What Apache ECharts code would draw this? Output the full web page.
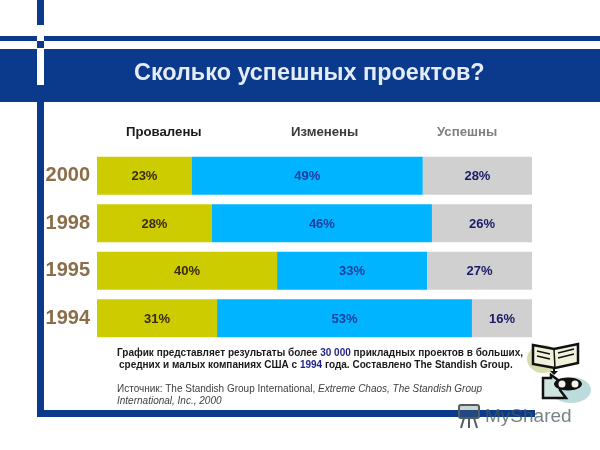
<!DOCTYPE html>
<html>
<head>
<meta charset="utf-8">
<style>
  html, body { margin: 0; padding: 0; background: #fff; }
  #chart { width: 600px; height: 450px; }
</style>
<script src="https://cdn.jsdelivr.net/npm/echarts@6/dist/echarts.min.js"></script>
</head>
<body>
<div id="chart"></div>
<script>
  var years = ['2000', '1998', '1995', '1994'];
  var seriesNames = ['Провалены', 'Изменены', 'Успешны'];
  // подписи на полосах
  var failedLabels = [23, 28, 40, 31];
  var changedLabels = [49, 46, 33, 53];
  var successLabels = [28, 26, 27, 16];
  // длины полос на картинке не совпадают с подписями, поэтому считаны отдельно
  var failedBars = [21.8, 26.4, 41.4, 27.6];
  var changedBars = [53.1, 50.6, 34.5, 58.6];
  var successBars = [25.1, 23, 24.1, 13.8];

  var font = '"Liberation Sans", Arial, sans-serif';
  var navy = '#0b3a8c';

  var chart = echarts.init(document.getElementById('chart'));

  function makeSeries(name, values, labels, color, labelColor) {
    return {
      name: name,
      type: 'bar',
      stack: 'total',
      barWidth: 38,
      data: values,
      itemStyle: { color: color },
      label: {
        show: true,
        position: 'inside',
        offset: [0, 1],
        formatter: function (p) {
          return labels[p.dataIndex] + '%';
        },
        color: labelColor,
        fontFamily: font,
        fontWeight: 'bold',
        fontSize: 13
      },
      silent: true
    };
  }

  function rect(x, y, w, h, fill, z) {
    return { type: 'rect', shape: { x: x, y: y, width: w, height: h }, style: { fill: fill }, silent: true, z: z || 1 };
  }

  function text(x, y, str, size, color, weight, align, style) {
    return {
      type: 'text', x: x, y: y, z: 5, silent: true,
      style: {
        text: str, fill: color, align: align || 'left', verticalAlign: 'middle',
        font: (style || 'normal') + ' ' + (weight || 'normal') + ' ' + size + 'px ' + font
      }
    };
  }

  function shape(type, sh, st, z) {
    return { type: type, shape: sh, style: st, silent: true, z: z };
  }

  var ink = '#111111';

  var graphics = [
    // рамка слайда
    rect(37, 0, 7, 25, navy),
    rect(0, 36, 37, 5, navy),
    rect(44, 36, 556, 5, navy),
    rect(37, 41, 7, 7, navy),
    rect(0, 49, 600, 53, navy),
    rect(37, 49, 7, 36, '#ffffff', 2),
    rect(37, 102, 7, 315, navy),
    rect(37, 410, 498, 7, navy),

    text(134, 73.5, 'Сколько успешных проектов?', 23.4, '#e4ecf8', 'bold'),

    text(126, 132, seriesNames[0], 13.2, '#1a1a1a', 'bold'),
    text(291, 132, seriesNames[1], 13.2, '#3a3a3a', 'bold'),
    text(437, 132, seriesNames[2], 13.2, '#808080', 'bold'),

    // подпись под графиком
    {
      type: 'text', x: 117, y: 353, z: 5, silent: true,
      style: {
        text: '{b|График представляет результаты более }{h|30 000}{b| прикладных проектов в больших,}',
        verticalAlign: 'middle',
        rich: {
          b: { font: 'bold 10px ' + font, fill: '#1a1a1a' },
          h: { font: 'bold 10px ' + font, fill: '#1f1f8c' }
        }
      }
    },
    {
      type: 'text', x: 119, y: 365, z: 5, silent: true,
      style: {
        text: '{b|средних и малых компаниях США с }{h|1994}{b| года. Составлено The Standish Group.}',
        verticalAlign: 'middle',
        rich: {
          b: { font: 'bold 10px ' + font, fill: '#1a1a1a' },
          h: { font: 'bold 10px ' + font, fill: '#1f1f8c' }
        }
      }
    },
    {
      type: 'text', x: 117, y: 389, z: 5, silent: true,
      style: {
        text: '{n|Источник: The Standish Group International, }{i|Extreme Chaos, The Standish Group}',
        verticalAlign: 'middle',
        rich: {
          n: { font: 'normal 10px ' + font, fill: '#404040' },
          i: { font: 'italic 10px ' + font, fill: '#404040' }
        }
      }
    },
    text(117, 401, 'International, Inc., 2000', 10, '#404040', 'normal', 'left', 'italic'),

    // значок: книга
    shape('ellipse', { cx: 543, cy: 359, rx: 16, ry: 14 }, { fill: '#d8dcb0' }, 2),
    shape('polygon', { points: [[533, 345], [554, 349], [578, 344], [578, 363], [555, 368], [533, 364]] }, { fill: '#f2f2dc', stroke: ink, lineWidth: 2.5 }, 3),
    shape('line', { x1: 554, y1: 349, x2: 555, y2: 368 }, { stroke: ink, lineWidth: 1.5 }, 3),
    shape('line', { x1: 537, y1: 351, x2: 550, y2: 354 }, { stroke: ink, lineWidth: 1.5 }, 3),
    shape('line', { x1: 537, y1: 356, x2: 550, y2: 359 }, { stroke: ink, lineWidth: 1.5 }, 3),
    shape('line', { x1: 558, y1: 353, x2: 574, y2: 349 }, { stroke: ink, lineWidth: 1.5 }, 3),
    shape('line', { x1: 558, y1: 358, x2: 574, y2: 354 }, { stroke: ink, lineWidth: 1.5 }, 3),
    shape('line', { x1: 554, y1: 368, x2: 554, y2: 372 }, { stroke: ink, lineWidth: 2 }, 3),
    shape('polygon', { points: [[550, 371], [558, 371], [554, 375]] }, { fill: ink }, 3),

    // значок: читатель
    shape('ellipse', { cx: 571, cy: 390, rx: 20, ry: 13 }, { fill: '#bcdcdc' }, 2),
    shape('polygon', { points: [[543, 378], [551, 378], [551, 375], [558, 380], [560, 390], [566, 398], [543, 398]] }, { fill: '#cfe4e0', stroke: ink, lineWidth: 2.5 }, 3),
    shape('ellipse', { cx: 568, cy: 384, rx: 14, ry: 6.5 }, { fill: ink }, 3),
    shape('circle', { cx: 562, cy: 384, r: 3.5 }, { fill: '#f4f4e8' }, 4),
    shape('circle', { cx: 575, cy: 384, r: 3.5 }, { fill: '#f4f4e8' }, 4),

    // водяной знак
    shape('rect', { x: 459, y: 405, width: 20, height: 13, r: 2 }, { fill: 'rgba(90,110,110,0.3)', stroke: '#4f5f5f', lineWidth: 2 }, 6),
    shape('line', { x1: 464, y1: 418, x2: 461, y2: 428 }, { stroke: '#4f5f5f', lineWidth: 2 }, 6),
    shape('line', { x1: 469, y1: 418, x2: 469, y2: 428 }, { stroke: '#4f5f5f', lineWidth: 2 }, 6),
    shape('line', { x1: 474, y1: 418, x2: 477, y2: 428 }, { stroke: '#4f5f5f', lineWidth: 2 }, 6),
    text(485, 417, 'MyShared', 19, 'rgba(70,90,90,0.75)', 'normal')
  ];

  var option = {
    animation: false,
    backgroundColor: '#ffffff',
    grid: { left: 97, top: 152, width: 435, height: 190 },
    xAxis: { type: 'value', min: 0, max: 100, show: false },
    yAxis: {
      type: 'category',
      data: years,
      inverse: true,
      axisLine: { show: false },
      axisTick: { show: false },
      axisLabel: {
        margin: 7,
        color: '#8c6d4a',
        fontFamily: font,
        fontWeight: 'bold',
        fontSize: 20
      }
    },
    series: [
      makeSeries(seriesNames[0], failedBars, failedLabels, '#cccc00', '#3a2a10'),
      makeSeries(seriesNames[1], changedBars, changedLabels, '#00b4ff', '#1c3fa0'),
      makeSeries(seriesNames[2], successBars, successLabels, '#d0d0d0', '#1a1a66')
    ],
    graphic: graphics
  };

  chart.setOption(option);
</script>
</body>
</html>
